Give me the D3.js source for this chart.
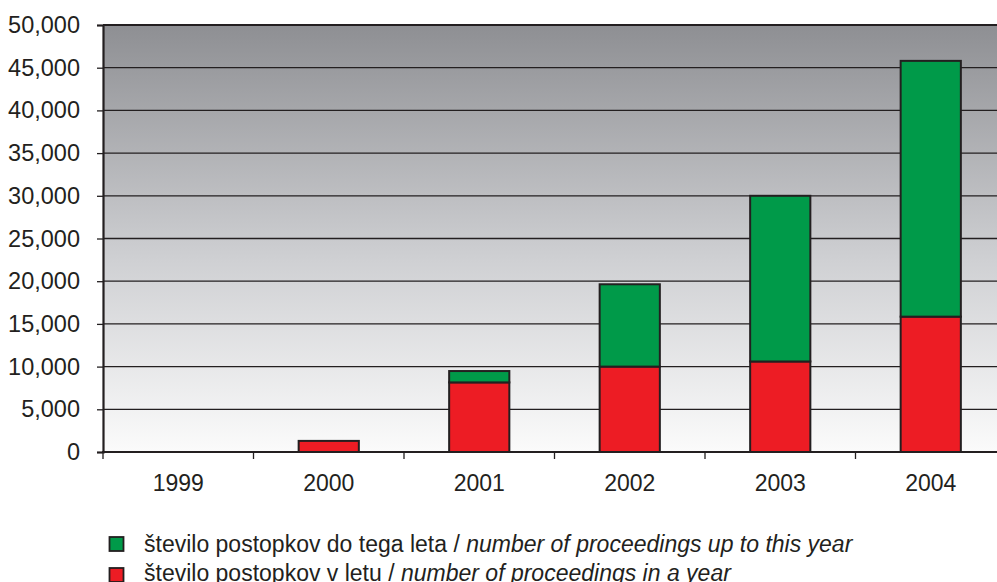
<!DOCTYPE html>
<html>
<head>
<meta charset="utf-8">
<script src="https://cdn.jsdelivr.net/npm/d3@7"></script>
<style>
  html, body { margin: 0; padding: 0; background: #ffffff; }
  svg { display: block; }
  text { font-family: "Liberation Sans", Arial, sans-serif; fill: #231f20; }
</style>
</head>
<body>
<svg id="chart" width="997" height="582"></svg>
<script>
// ---- data ----
const years = ["1999", "2000", "2001", "2002", "2003", "2004"];
const perYear = [0, 1300, 8150, 10000, 10600, 15850];      // red: number of proceedings in a year
const upToYearExtra = [0, 0, 1330, 9640, 19400, 29950];    // green segment stacked on top
const yTicks = [0, 5000, 10000, 15000, 20000, 25000, 30000, 35000, 40000, 45000, 50000];
const seriesKeys = ["perYear", "upTo"];
const seriesColors = ["#ed1c24", "#009a49"];
const legendLabels = [
  { main: "število postopkov do tega leta / ", it: "number of proceedings up to this year", color: "#009a49" },
  { main: "število postopkov v letu / ", it: "number of proceedings in a year", color: "#ed1c24" }
];

(function () {
const rows = years.map((y, i) => ({ year: y, perYear: perYear[i], upTo: upToYearExtra[i] }));

const svg = d3.select("#chart");
const pLeft = 103, pRight = 1006, pTop = 25, pBottom = 452;
const ink = "#231f20";

const x = d3.scaleBand().domain(years).range([pLeft, pRight]).paddingInner(0.6).paddingOuter(0.3);
const y = d3.scaleLinear().domain([0, 50000]).range([pBottom, pTop]);

// background gradient
const defs = svg.append("defs");
const grad = defs.append("linearGradient").attr("id", "bg").attr("x1", 0).attr("y1", 0).attr("x2", 0).attr("y2", 1);
grad.append("stop").attr("offset", "0%").attr("stop-color", "#8e8f93");
grad.append("stop").attr("offset", "55%").attr("stop-color", "#cfd0d3");
grad.append("stop").attr("offset", "100%").attr("stop-color", "#fbfbfb");

svg.append("rect").attr("x", pLeft).attr("y", pTop).attr("width", 997 - pLeft).attr("height", pBottom - pTop)
  .attr("fill", "url(#bg)");

// gridlines
svg.append("g").selectAll("line").data(yTicks.filter(t => t > 0 && t < 50000)).join("line")
  .attr("x1", pLeft).attr("x2", 997)
  .attr("y1", d => y(d)).attr("y2", d => y(d))
  .attr("stroke", ink).attr("stroke-width", 1.3);

// top border
svg.append("line").attr("x1", pLeft).attr("x2", 997).attr("y1", y(50000)).attr("y2", y(50000))
  .attr("stroke", ink).attr("stroke-width", 2.2);

// y axis
const yAxis = d3.axisLeft(y).tickValues(yTicks).tickFormat(d3.format(",")).tickSize(6).tickPadding(17);
const gy = svg.append("g").attr("transform", `translate(${pLeft},0)`).call(yAxis);
gy.select(".domain").attr("stroke", ink).attr("stroke-width", 2.2);
gy.selectAll(".tick line").attr("stroke", ink).attr("stroke-width", 1.3);
gy.selectAll(".tick text").attr("font-size", 23.5).attr("font-family", "Liberation Sans, Arial, sans-serif").attr("fill", ink);

// stacked bars
const stack = d3.stack().keys(seriesKeys)(rows);
svg.append("g").selectAll("g").data(stack).join("g")
  .attr("fill", (d, i) => seriesColors[i])
  .selectAll("rect").data(d => d.filter(s => s[1] - s[0] > 0)).join("rect")
  .attr("x", d => x(d.data.year))
  .attr("width", x.bandwidth())
  .attr("y", d => y(d[1]))
  .attr("height", d => y(d[0]) - y(d[1]))
  .attr("stroke", ink).attr("stroke-width", 2);

// x axis
const xb = d3.scaleLinear().domain([0, years.length]).range([pLeft, pRight]);
svg.append("line").attr("x1", pLeft - 1).attr("x2", 997).attr("y1", pBottom).attr("y2", pBottom)
  .attr("stroke", ink).attr("stroke-width", 2.2);
svg.append("g").selectAll("line").data(d3.range(0, years.length)).join("line")
  .attr("x1", d => xb(d)).attr("x2", d => xb(d))
  .attr("y1", pBottom).attr("y2", pBottom + 7)
  .attr("stroke", ink).attr("stroke-width", 1.3);
svg.append("g").selectAll("text").data(years).join("text")
  .attr("x", d => x(d) + x.bandwidth() / 2).attr("y", 491)
  .attr("text-anchor", "middle").attr("font-size", 23)
  .text(d => d);

// legend
const lg = svg.append("g");
legendLabels.forEach((l, i) => {
  const yy = 537 + i * 31;
  lg.append("rect").attr("x", 109.5).attr("y", yy).attr("width", 14).attr("height", 14)
    .attr("fill", l.color).attr("stroke", ink).attr("stroke-width", 1.8);
  const t = lg.append("text").attr("x", 144).attr("y", 552 + i * 29).attr("font-size", 23);
  t.append("tspan").text(l.main);
  t.append("tspan").attr("font-style", "italic").text(l.it);
});
})();
</script>
</body>
</html>
